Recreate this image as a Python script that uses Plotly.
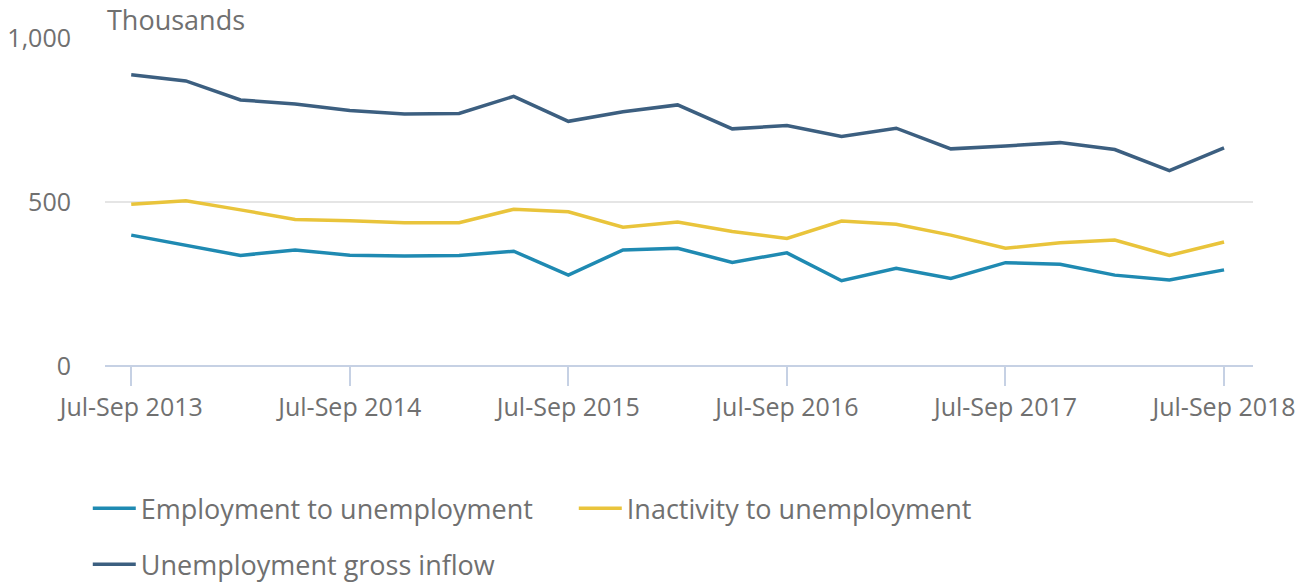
import plotly.graph_objects as go

# ── Data (thousands) ──────────────────────────────────────────────────────────

QUARTERS = [
    "Jul-Sep 2013", "Oct-Dec 2013", "Jan-Mar 2014", "Apr-Jun 2014",
    "Jul-Sep 2014", "Oct-Dec 2014", "Jan-Mar 2015", "Apr-Jun 2015",
    "Jul-Sep 2015", "Oct-Dec 2015", "Jan-Mar 2016", "Apr-Jun 2016",
    "Jul-Sep 2016", "Oct-Dec 2016", "Jan-Mar 2017", "Apr-Jun 2017",
    "Jul-Sep 2017", "Oct-Dec 2017", "Jan-Mar 2018", "Apr-Jun 2018",
    "Jul-Sep 2018",
]

EMP_TO_UNEMP = [399, 369, 337, 354, 338, 335, 337, 350, 277, 354, 359,
                316, 345, 260, 298, 267, 315, 310, 277, 262, 293]

INACT_TO_UNEMP = [493, 504, 476, 447, 443, 437, 437, 478, 470, 423, 439,
                  410, 389, 442, 432, 399, 359, 376, 384, 337, 378]

GROSS_INFLOW = [888, 869, 811, 799, 779, 768, 770, 822, 746, 775, 796,
                723, 733, 700, 725, 662, 671, 681, 660, 596, 665]

TICK_LABELS = QUARTERS[::4]
Y_TICKS = [0, 500, 1000]

# ── Style ─────────────────────────────────────────────────────────────────────

TEXT_COLOR = "#707070"
GRID_COLOR = "#e5e5e5"
AXIS_COLOR = "#c6d1e4"
FONT = "Open Sans, sans-serif"

SERIES = [
    ("Employment to unemployment", EMP_TO_UNEMP,   "#1f8ab2", "legend"),
    ("Inactivity to unemployment", INACT_TO_UNEMP, "#e9c43b", "legend"),
    ("Unemployment gross inflow",  GROSS_INFLOW,   "#3c5f80", "legend2"),
]

fig = go.Figure()

for name, values, color, legend in SERIES:
    fig.add_trace(go.Scatter(
        x      = QUARTERS,
        y      = values,
        mode   = "lines",
        name   = name,
        line   = dict(color=color, width=3.5),
        legend = legend,
    ))

legend_style = dict(
    orientation = "h",
    xanchor     = "left",
    yanchor     = "top",
    font        = dict(family=FONT, size=27, color=TEXT_COLOR),
    bgcolor     = "rgba(0,0,0,0)",
    entrywidth  = 428,
    itemwidth   = 43,
)

# page body has an 8px margin, so the figure is sized 8px short each way
fig.update_layout(
    width         = 1302,
    height        = 574,
    paper_bgcolor = "white",
    plot_bgcolor  = "white",
    font          = dict(family=FONT, size=25, color=TEXT_COLOR),
    margin        = dict(l=97, r=57, t=30, b=216, autoexpand=False),
    showlegend    = True,
    legend        = dict(legend_style, x=-0.015, y=-0.36),
    legend2       = dict(legend_style, x=-0.015, y=-0.531),
    xaxis = dict(
        type      = "category",
        range     = [-0.48, 20.53],
        tickmode  = "array",
        tickvals  = TICK_LABELS,
        ticktext  = TICK_LABELS,
        ticks     = "outside",
        ticklen   = 19,
        tickwidth = 1.5,
        tickcolor = AXIS_COLOR,
        showgrid  = False,
        showline  = False,
        zeroline  = False,
        automargin = False,
        tickfont  = dict(family=FONT, size=25, color=TEXT_COLOR),
    ),
    yaxis = dict(
        range      = [0, 1000],
        tickvals   = Y_TICKS,
        tickformat = ",",
        gridcolor  = GRID_COLOR,
        gridwidth  = 1.5,
        showline   = False,
        zeroline   = True,
        zerolinecolor = AXIS_COLOR,
        zerolinewidth = 2,
        ticks      = "",
        ticklabelstandoff = 33,
        automargin = False,
        tickfont   = dict(family=FONT, size=25, color=TEXT_COLOR),
    ),
    annotations = [dict(
        text      = "Thousands",
        xref      = "paper",
        yref      = "paper",
        x         = 0,
        y         = 1,
        xanchor   = "left",
        yanchor   = "bottom",
        yshift    = -2,
        showarrow = False,
        font      = dict(family=FONT, size=27, color=TEXT_COLOR),
    )],
)

fig.write_html("out.html")
